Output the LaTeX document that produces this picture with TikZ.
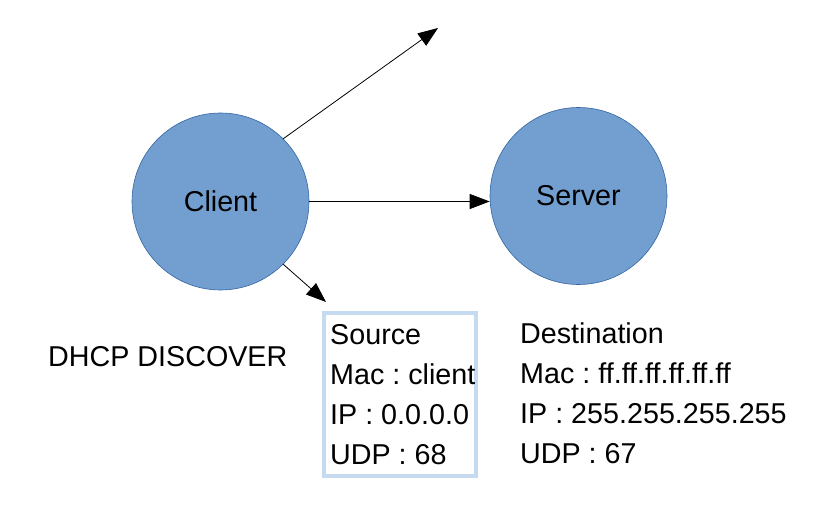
\documentclass[tikz,border=0pt]{standalone}
\usepackage{fontspec}
\setmainfont{Liberation Sans}
\usetikzlibrary{arrows.meta}
\frenchspacing

\definecolor{hostfill}{RGB}{114,159,207}
\definecolor{hostline}{RGB}{52,101,164}
\definecolor{boxline}{RGB}{198,218,240}

\tikzset{
  host/.style={circle, draw=hostline, fill=hostfill, line width=0.6bp,
               minimum size=177bp, inner sep=0pt},
  txt/.style={anchor=base west, inner sep=0pt},
  msg/.style={-{Triangle[length=20bp,width=15bp]}, line width=0.8bp},
}

\begin{document}
\begin{tikzpicture}[x=1bp, y=-1bp, font=\fontsize{28.7bp}{40bp}\selectfont]
\useasboundingbox (0,0) rectangle (828,531);

\node[host] (client) at (220.5,201.5) {Client};
\node[host] (server) at (578.5,196) {Server};

\coordinate (bcast) at (438,28);
\coordinate (srctip) at (326,302);

\draw[msg] (client.45) -- (bcast);
\draw[msg] (client.east) -- (client.east -| server.west);
\draw[msg] (client.-45) -- (srctip);

\node[draw=boxline, line width=4bp, outer sep=0pt, inner sep=0pt,
      minimum width=152bp, minimum height=163bp, anchor=north west]
      (srcbox) at (324,313) {};

\foreach \t [count=\i] in {Source, Mac : client, IP : 0.0.0.0, UDP : 68}
	{\node[txt] (src\i) at (330, 304+40*\i) {\t};};
\foreach \t [count=\i] in {Destination, Mac : ff.ff.ff.ff.ff.ff, IP : 255.255.255.255, UDP : 67}
	{\node[txt] (dst\i) at (520, 303+40*\i) {\t};};

\node[txt] (title) at (48,366) {DHCP DISCOVER};
\end{tikzpicture}
\end{document}
